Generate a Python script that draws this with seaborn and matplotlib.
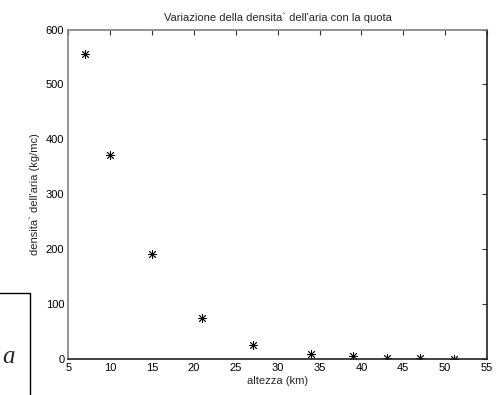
import matplotlib
matplotlib.use("Agg")
import matplotlib.pyplot as plt
from matplotlib.patches import Rectangle
import seaborn as sns
import pandas as pd

# altitude (km) and air density values
altezza = [7, 10, 15, 21, 27, 34, 39, 43, 47, 51]
densita = [555, 371, 192, 74, 26, 10, 5, 2, 1.5, 0.5]

x_ticks = [5, 10, 15, 20, 25, 30, 35, 40, 45, 50, 55]
y_ticks = [0, 100, 200, 300, 400, 500, 600]

sns.set_theme(style="white")
plt.rcParams["font.family"] = ["Liberation Sans", "DejaVu Sans"]

W, H = 502, 395
fig = plt.figure(figsize=(W / 100, H / 100), dpi=100)
ax = fig.add_axes([68.5 / W, 1 - 359 / H, (487 - 68.5) / W, (359 - 29.5) / H])

df = pd.DataFrame({"altezza": altezza, "densita": densita})
sns.scatterplot(data=df, x="altezza", y="densita", ax=ax, marker=(8, 2, 0),
                color="black", edgecolor="black", s=34, linewidth=0.6, legend=False)

ax.set_xlim(5, 55)
ax.set_ylim(0, 600)
ax.set_xticks(x_ticks)
ax.set_yticks(y_ticks)
ax.tick_params(direction="in", length=3.5, width=0.8, colors="#333333",
               labelsize=8, top=True, right=True, pad=3)
ax.tick_params(axis="both", labelcolor="black")
for side, col in [("left", "#808080"), ("top", "#808080"),
                  ("bottom", "#222222"), ("right", "#222222")]:
    ax.spines[side].set_color(col)
    ax.spines[side].set_linewidth(1.2)

ax.set_title("Variazione della densita` dell'aria con la quota", fontsize=8, pad=6)
ax.set_xlabel("altezza (km)", fontsize=8, labelpad=2)
ax.set_ylabel("densita` dell'aria (kg/mc)", fontsize=8, labelpad=4)

# framed label box at lower left
fig.patches.append(Rectangle((-20 / W, -10 / H), 50 / W, (395 - 292.5 + 10) / H,
                             transform=fig.transFigure, fill=False,
                             edgecolor="black", linewidth=1.0))
fig.text(2 / W, 1 - 363 / H, "a", fontsize=18, style="italic",
         family=["Liberation Serif", "DejaVu Serif"], ha="left", va="baseline")

fig.savefig("out.png", dpi=100)
